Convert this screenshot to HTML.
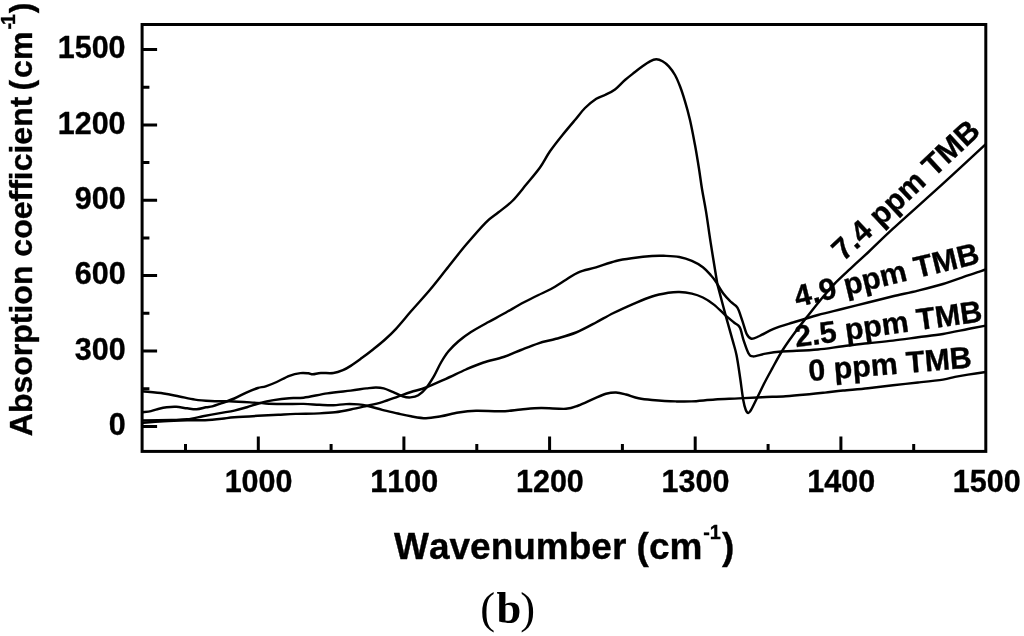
<!DOCTYPE html>
<html lang="en"><head><meta charset="utf-8">
<title>Absorption coefficient vs wavenumber (b)</title>
<style>
html,body{margin:0;padding:0;background:#fff;}
body{width:1024px;height:636px;overflow:hidden;}
svg{display:block;}
.s{font-family:'Liberation Sans', Arial, Helvetica, sans-serif;font-weight:700;fill:#000;stroke:#000;stroke-width:0.35;font-kerning:none;}
.t{font-size:30.5px;}
.k{font-size:30.4px;}
.c{fill:none;stroke:#000;stroke-width:2.45;stroke-linejoin:round;stroke-linecap:butt;}
.a{fill:none;stroke:#000;stroke-width:3.0;stroke-linecap:butt;}
</style></head><body>
<svg width="1024" height="636" viewBox="0 0 1024 636">
<rect width="1024" height="636" fill="#fff"/>
<g class="c">
<path d="M142.1,391.3C145.7,391.7 157.4,392.6 163.6,393.5C169.8,394.4 174.1,395.5 179.3,396.5C184.5,397.5 189.8,398.9 195.0,399.6C200.2,400.4 204.9,400.7 210.7,401.0C216.5,401.3 223.0,401.1 229.6,401.3C236.2,401.5 244.0,402.0 250.0,402.4C256.0,402.8 260.4,403.2 265.7,403.5C270.9,403.8 275.2,403.9 281.5,404.0C287.8,404.1 297.3,403.8 303.6,403.9C309.9,404.0 314.3,404.6 319.3,404.8C324.3,405.0 328.9,405.3 333.4,405.2C337.8,405.1 341.8,404.2 346.0,404.1C350.2,404.0 354.9,404.1 358.6,404.4C362.3,404.7 364.1,405.1 368.0,406.0C371.9,406.9 377.2,408.6 382.2,409.9C387.2,411.1 393.1,412.4 397.9,413.5C402.7,414.6 406.3,415.5 411.0,416.3C415.7,417.1 421.0,418.2 426.0,418.2C431.0,418.2 435.6,417.2 441.0,416.3C446.4,415.4 452.7,413.4 458.5,412.5C464.3,411.6 468.9,411.0 476.0,410.8C483.1,410.6 493.5,411.5 501.0,411.3C508.5,411.1 514.3,410.1 521.0,409.5C527.7,408.9 533.5,408.1 541.0,408.0C548.5,407.9 559.8,409.2 566.0,408.8C572.2,408.4 573.9,407.2 578.5,405.5C583.1,403.8 588.9,400.8 593.5,398.8C598.1,396.9 602.2,394.9 606.0,393.8C609.8,392.8 612.7,392.4 616.0,392.5C619.3,392.6 622.2,393.5 626.0,394.5C629.8,395.5 634.2,397.4 638.5,398.3C642.8,399.2 645.8,399.5 652.0,400.0C658.2,400.5 669.1,401.2 675.7,401.4C682.3,401.6 684.9,401.7 691.4,401.4C697.9,401.1 707.1,400.0 715.0,399.5C722.9,399.0 730.7,398.8 738.6,398.4C746.5,398.0 754.4,397.6 762.2,397.2C770.1,396.8 777.9,396.7 785.7,396.2C793.6,395.7 802.8,394.8 809.3,394.2C815.8,393.6 819.4,393.2 825.0,392.6C830.6,392.0 835.8,391.2 843.0,390.5C850.2,389.8 859.7,389.1 868.0,388.2C876.3,387.3 884.7,386.2 893.0,385.3C901.3,384.4 909.7,383.4 918.0,382.5C926.3,381.6 936.8,380.5 943.0,379.6C949.2,378.7 950.8,377.7 955.0,376.9C959.2,376.1 962.9,375.4 968.0,374.6C973.1,373.8 982.8,372.4 985.8,372.0"/>
<path d="M142.1,422.9C145.7,422.6 156.1,421.7 163.6,421.3C171.1,420.9 180.3,420.6 187.2,420.4C194.1,420.2 199.2,420.5 205.0,420.2C210.8,419.9 216.8,419.3 221.7,418.8C226.6,418.3 228.3,417.8 234.3,417.3C240.3,416.8 250.6,416.2 257.9,415.8C265.2,415.4 272.0,415.0 278.3,414.7C284.6,414.4 288.9,414.1 295.7,413.9C302.5,413.7 312.8,413.7 319.3,413.4C325.9,413.1 329.8,412.9 335.0,412.3C340.2,411.7 345.5,410.6 350.7,409.5C355.9,408.4 361.1,407.2 366.4,406.0C371.6,404.8 376.9,403.7 382.2,402.1C387.4,400.5 393.1,398.3 397.9,396.6C402.7,394.9 406.3,393.5 411.0,392.0C415.7,390.5 420.2,389.7 426.0,387.5C431.8,385.3 439.3,381.8 446.0,378.8C452.7,375.8 459.8,372.2 466.0,369.5C472.2,366.8 477.2,364.6 483.5,362.5C489.8,360.4 497.2,359.1 503.5,357.0C509.8,354.9 515.2,352.3 521.0,350.0C526.8,347.7 532.7,345.2 538.5,343.3C544.3,341.4 549.8,340.6 556.0,338.8C562.2,337.0 569.3,335.2 576.0,332.5C582.7,329.8 589.8,325.8 596.0,322.5C602.2,319.2 607.2,316.1 613.5,313.0C619.8,309.9 627.1,306.6 633.5,303.8C639.9,301.1 646.2,298.3 652.0,296.5C657.8,294.7 663.8,293.6 668.3,292.8C672.8,292.1 675.4,291.9 679.3,292.0C683.2,292.1 688.0,292.7 691.9,293.6C695.8,294.5 699.2,295.7 702.9,297.5C706.6,299.3 710.2,301.7 713.9,304.6C717.6,307.5 721.5,311.8 724.9,314.8C728.3,317.8 731.8,320.6 734.3,322.7C736.8,324.8 738.2,324.4 739.8,327.4C741.4,330.4 742.2,336.4 743.7,340.7C745.2,345.0 746.9,350.7 748.5,353.3C750.1,355.9 750.3,356.3 753.2,356.4C756.1,356.4 761.0,354.4 765.7,353.6C770.4,352.8 777.0,351.9 781.5,351.5C786.0,351.1 786.9,351.3 793.0,351.0C799.1,350.7 809.7,350.3 818.0,349.5C826.3,348.7 834.7,347.3 843.0,346.3C851.3,345.3 859.7,344.2 868.0,343.3C876.3,342.4 884.7,341.6 893.0,340.6C901.3,339.6 909.7,338.4 918.0,337.3C926.3,336.2 934.7,335.4 943.0,334.0C951.3,332.6 960.9,330.4 968.0,329.0C975.1,327.6 982.8,326.2 985.8,325.6"/>
<path d="M142.1,420.5C147.0,420.4 163.9,420.2 171.4,420.0C178.9,419.8 181.9,419.9 187.2,419.3C192.4,418.7 197.7,417.3 202.9,416.3C208.1,415.3 213.4,414.3 218.6,413.4C223.8,412.4 229.6,411.6 234.3,410.6C239.0,409.6 242.7,408.4 246.9,407.2C251.1,406.0 254.9,404.4 259.4,403.2C263.8,402.0 268.6,400.9 273.6,400.1C278.6,399.3 284.3,398.6 289.3,398.2C294.3,397.8 297.3,398.5 303.6,397.7C309.9,396.9 319.4,394.6 327.2,393.4C335.0,392.2 344.2,391.4 350.7,390.6C357.2,389.8 362.2,388.9 366.4,388.4C370.6,387.9 373.0,387.5 375.9,387.5C378.8,387.5 380.8,387.6 383.7,388.4C386.6,389.2 390.0,390.9 393.2,392.2C396.4,393.5 399.7,395.4 402.6,396.3C405.5,397.2 407.9,397.6 410.5,397.4C413.1,397.2 415.7,396.9 418.3,395.3C420.9,393.7 423.6,391.1 426.2,387.9C428.8,384.7 431.5,380.3 434.0,376.1C436.5,371.9 438.6,366.6 441.0,362.5C443.4,358.4 445.6,354.8 448.5,351.3C451.4,347.8 454.8,344.5 458.5,341.3C462.2,338.1 466.0,335.2 471.0,332.0C476.0,328.8 482.7,325.2 488.5,322.0C494.3,318.8 500.2,315.8 506.0,312.5C511.8,309.2 518.1,305.4 523.5,302.5C528.9,299.6 533.9,297.2 538.5,295.0C543.1,292.8 546.4,291.5 551.0,289.0C555.6,286.5 561.4,282.6 566.0,279.8C570.6,277.0 573.5,274.4 578.5,272.3C583.5,270.2 589.8,269.2 596.0,267.3C602.2,265.4 609.8,262.6 616.0,261.0C622.2,259.4 627.5,258.8 633.5,258.0C639.5,257.2 647.0,256.4 652.0,256.0C657.0,255.6 659.1,255.6 663.6,255.8C668.1,256.0 674.6,256.1 679.3,257.0C684.0,257.9 688.0,259.2 691.9,260.9C695.8,262.6 699.8,264.8 702.9,267.2C706.0,269.6 708.6,272.8 710.7,275.1C712.8,277.4 713.3,277.9 715.4,281.0C717.5,284.1 720.7,290.1 723.3,293.6C725.9,297.1 728.9,299.9 731.2,302.2C733.6,304.5 735.6,304.7 737.4,307.7C739.2,310.7 740.6,315.9 742.2,320.3C743.8,324.8 745.3,331.3 746.9,334.4C748.5,337.5 749.5,338.5 751.6,338.8C753.7,339.1 755.8,337.6 759.5,336.0C763.2,334.4 768.0,331.1 773.6,328.9C779.2,326.6 785.6,324.8 793.0,322.5C800.4,320.2 809.7,317.3 818.0,315.0C826.3,312.7 834.7,310.9 843.0,308.8C851.3,306.7 859.7,304.6 868.0,302.5C876.3,300.4 884.7,298.3 893.0,296.3C901.3,294.3 909.7,292.7 918.0,290.6C926.3,288.6 934.7,286.6 943.0,284.0C951.3,281.4 960.9,277.7 968.0,275.3C975.1,272.9 982.8,270.5 985.8,269.5"/>
<path d="M142.1,412.2C143.6,412.0 148.5,411.6 151.0,411.1C153.5,410.6 154.7,409.8 157.3,409.2C159.9,408.6 163.6,407.7 166.7,407.3C169.8,406.9 172.7,406.6 176.1,406.8C179.5,407.0 183.8,407.9 187.2,408.3C190.6,408.7 193.5,409.4 196.6,409.2C199.7,409.0 203.4,407.8 206.0,407.3C208.6,406.8 209.7,407.1 212.3,406.4C214.9,405.7 218.0,404.5 221.7,403.2C225.4,401.9 230.1,400.3 234.3,398.5C238.5,396.7 243.0,394.1 246.9,392.3C250.8,390.6 254.8,389.0 257.9,388.0C261.0,387.0 262.6,387.3 265.7,386.3C268.8,385.3 272.8,383.8 276.7,382.0C280.6,380.2 285.4,377.3 289.4,375.8C293.3,374.3 297.2,373.5 300.4,373.1C303.5,372.7 306.2,373.1 308.3,373.3C310.4,373.5 310.9,374.4 313.0,374.3C315.1,374.2 317.5,373.2 320.9,373.0C324.3,372.8 329.7,373.5 333.4,373.0C337.1,372.5 340.0,371.4 342.9,370.2C345.8,369.0 347.6,367.9 350.7,365.9C353.8,363.9 358.0,360.8 361.7,358.1C365.4,355.4 368.9,352.7 372.7,349.7C376.5,346.7 380.6,343.5 384.5,340.0C388.4,336.5 391.6,333.6 396.0,328.8C400.4,324.0 405.4,317.8 411.0,311.3C416.6,304.8 424.0,296.9 429.8,290.0C435.6,283.1 440.0,277.3 446.0,269.8C452.0,262.3 459.3,252.7 466.0,244.8C472.7,236.9 480.6,227.7 486.0,222.3C491.4,216.9 494.1,215.9 498.5,212.3C502.9,208.8 507.7,205.6 512.3,201.0C516.9,196.4 521.4,190.4 526.0,184.8C530.6,179.2 536.0,173.1 540.0,167.5C544.0,161.9 546.2,156.7 550.0,151.3C553.8,145.9 558.3,140.2 562.5,135.0C566.7,129.8 571.2,124.5 575.0,120.0C578.8,115.5 581.5,111.5 585.0,108.0C588.5,104.5 593.0,101.0 596.3,98.8C599.6,96.6 601.9,96.5 605.0,95.0C608.1,93.5 611.7,92.0 615.0,89.5C618.3,87.0 621.7,82.9 625.0,80.0C628.3,77.1 632.1,74.3 635.0,72.0C637.9,69.7 640.0,68.1 642.5,66.3C645.0,64.5 647.7,62.5 650.0,61.3C652.3,60.1 654.2,59.3 656.3,59.3C658.4,59.3 660.4,60.1 662.5,61.3C664.6,62.5 666.7,64.0 668.8,66.3C670.9,68.6 673.1,71.7 675.0,75.0C676.9,78.3 678.3,81.9 680.0,86.3C681.7,90.7 683.3,95.7 685.0,101.3C686.7,106.9 688.3,112.7 690.0,120.0C691.7,127.3 693.5,137.1 695.0,145.0C696.5,152.9 697.6,160.2 698.8,167.5C700.0,174.8 700.8,181.7 702.0,189.0C703.2,196.3 704.5,202.4 706.0,211.4C707.5,220.4 708.9,231.5 710.7,242.9C712.5,254.3 715.4,272.3 716.7,280.0C718.0,287.7 717.1,283.0 718.6,288.9C720.1,294.8 723.4,307.0 725.7,315.6C728.1,324.2 730.9,334.1 732.7,340.7C734.5,347.3 735.2,348.7 736.5,355.0C737.8,361.3 739.1,370.8 740.2,378.3C741.3,385.9 742.4,395.1 743.3,400.3C744.2,405.5 744.9,407.6 745.7,409.7C746.5,411.8 747.4,412.9 748.3,412.9C749.2,412.9 749.8,412.1 751.2,409.7C752.6,407.3 754.6,403.0 756.7,398.7C758.8,394.4 761.5,388.8 764.0,383.8C766.5,378.8 768.9,374.5 772.0,368.9C775.1,363.3 778.4,356.7 782.7,350.0C787.0,343.3 793.2,334.8 797.7,328.8C802.2,322.8 805.7,318.6 809.5,313.8C813.3,309.0 816.4,304.9 820.5,300.0C824.6,295.1 829.0,289.5 834.0,284.3C839.0,279.1 844.8,273.9 850.5,268.6C856.2,263.3 860.9,259.1 868.0,252.5C875.1,245.8 880.5,240.2 893.0,228.7C905.5,217.2 927.5,197.8 943.0,183.7C958.5,169.6 978.7,150.8 985.8,144.2"/>
</g>
<rect class="a" x="142.1" y="24.5" width="843.7" height="426.9"/>
<path class="a" d="M142.1,426.4h15.0M142.1,351.0h15.0M142.1,275.6h15.0M142.1,200.3h15.0M142.1,124.9h15.0M142.1,49.5h15.0M142.1,388.7h7.3M142.1,313.3h7.3M142.1,237.9h7.3M142.1,162.6h7.3M142.1,87.2h7.3M258.3,451.4v-15.0M403.9,451.4v-15.0M549.6,451.4v-15.0M695.2,451.4v-15.0M840.9,451.4v-15.0M185.5,451.4v-7.3M331.1,451.4v-7.3M476.8,451.4v-7.3M622.4,451.4v-7.3M768.1,451.4v-7.3M913.7,451.4v-7.3"/>
<text class="s t" x="125.6" y="435.0" text-anchor="end">0</text>
<text class="s t" x="125.6" y="359.6" text-anchor="end">300</text>
<text class="s t" x="125.6" y="284.2" text-anchor="end">600</text>
<text class="s t" x="125.6" y="208.9" text-anchor="end">900</text>
<text class="s t" x="125.6" y="133.5" text-anchor="end">1200</text>
<text class="s t" x="125.6" y="58.1" text-anchor="end">1500</text>
<text class="s t" x="258.6" y="492.0" text-anchor="middle">1000</text>
<text class="s t" x="404.2" y="492.0" text-anchor="middle">1100</text>
<text class="s t" x="549.9" y="492.0" text-anchor="middle">1200</text>
<text class="s t" x="695.5" y="492.0" text-anchor="middle">1300</text>
<text class="s t" x="841.2" y="492.0" text-anchor="middle">1400</text>
<text class="s t" x="986.8" y="492.0" text-anchor="middle">1500</text>
<text class="s" font-size="37" x="394" y="559">Wavenumber (cm</text>
<text class="s" font-size="19.8" x="703.2" y="538.8">-1</text>
<text class="s" font-size="37" x="722" y="559">)</text>
<g transform="translate(32.3,436.2) rotate(-90)">
<text class="s" font-size="32" x="0" y="0">Absorption coefficient</text>
<text class="s" font-size="32" x="345.7" y="0">(</text>
<text class="s" font-size="32" x="358.3" y="0">cm</text>
<text class="s" font-size="19.6" y="-16.9"><tspan x="406.7">-</tspan><tspan x="411.1">1</tspan></text>
<text class="s" font-size="32" x="423" y="0">)</text>
</g>
<text class="s k" transform="translate(843.5,262) rotate(-43)">7.4 ppm TMB</text>
<text class="s k" transform="translate(797,307.3) rotate(-13.6)">4.9 ppm TMB</text>
<text class="s k" transform="translate(796,347.3) rotate(-7.9)">2.5 ppm TMB</text>
<text class="s k" transform="translate(809.3,381.2) rotate(-4.8)">0 ppm TMB</text>
<text y="623" font-family="'Liberation Serif', 'Times New Roman', Times, serif" font-size="44.5" fill="#000"><tspan x="480.3">(</tspan><tspan x="496.6" font-weight="700">b</tspan><tspan x="520.3">)</tspan></text>
</svg>
</body></html>
